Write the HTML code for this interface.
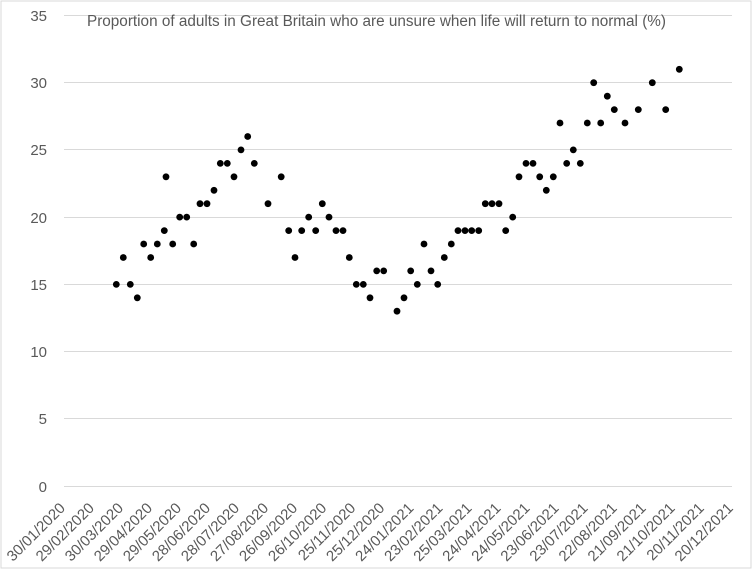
<!DOCTYPE html>
<html>
<head>
<meta charset="utf-8">
<style>
  html, body { margin: 0; padding: 0; background: #fff; }
  svg { display: block; }
  text { font-family: "Liberation Sans", "DejaVu Sans", sans-serif; fill: #595959; }
</style>
</head>
<body>
<svg width="754" height="571" viewBox="0 0 754 571" xmlns="http://www.w3.org/2000/svg">
  <rect x="0" y="0" width="754" height="571" fill="#fff"/>
  <rect x="1" y="1" width="750" height="567" fill="#fff" stroke="#d9d9d9" stroke-width="1"/>

  <!-- gridlines -->
  <g stroke="#d9d9d9" stroke-width="1">
    <line x1="64" y1="15.5" x2="732" y2="15.5"/>
    <line x1="64" y1="82.5" x2="732" y2="82.5"/>
    <line x1="64" y1="149.5" x2="732" y2="149.5"/>
    <line x1="64" y1="217.5" x2="732" y2="217.5"/>
    <line x1="64" y1="284.5" x2="732" y2="284.5"/>
    <line x1="64" y1="351.5" x2="732" y2="351.5"/>
    <line x1="64" y1="418.5" x2="732" y2="418.5"/>
    <line x1="64" y1="486.5" x2="732" y2="486.5"/>
  </g>

  <!-- y labels -->
  <g font-size="15" text-anchor="end">
    <text x="47" y="21">35</text>
    <text x="47" y="88">30</text>
    <text x="47" y="155">25</text>
    <text x="47" y="223">20</text>
    <text x="47" y="290">15</text>
    <text x="47" y="357">10</text>
    <text x="47" y="424">5</text>
    <text x="47" y="492">0</text>
  </g>

  <!-- title -->
  <text x="87" y="26" font-size="15.5" textLength="579" lengthAdjust="spacingAndGlyphs">Proportion of adults in Great Britain who are unsure when life will return to normal (%)</text>

  <!-- x labels -->
  <g font-size="15" text-anchor="end">
    <text x="66" y="509" transform="rotate(-45 66 509)">30/01/2020</text>
    <text x="95" y="509" transform="rotate(-45 95 509)">29/02/2020</text>
    <text x="124.1" y="509" transform="rotate(-45 124.1 509)">30/03/2020</text>
    <text x="153.1" y="509" transform="rotate(-45 153.1 509)">29/04/2020</text>
    <text x="182.2" y="509" transform="rotate(-45 182.2 509)">29/05/2020</text>
    <text x="211.2" y="509" transform="rotate(-45 211.2 509)">28/06/2020</text>
    <text x="240.2" y="509" transform="rotate(-45 240.2 509)">28/07/2020</text>
    <text x="269.3" y="509" transform="rotate(-45 269.3 509)">27/08/2020</text>
    <text x="298.3" y="509" transform="rotate(-45 298.3 509)">26/09/2020</text>
    <text x="327.4" y="509" transform="rotate(-45 327.4 509)">26/10/2020</text>
    <text x="356.4" y="509" transform="rotate(-45 356.4 509)">25/11/2020</text>
    <text x="385.4" y="509" transform="rotate(-45 385.4 509)">25/12/2020</text>
    <text x="414.5" y="509" transform="rotate(-45 414.5 509)">24/01/2021</text>
    <text x="443.5" y="509" transform="rotate(-45 443.5 509)">23/02/2021</text>
    <text x="472.6" y="509" transform="rotate(-45 472.6 509)">25/03/2021</text>
    <text x="501.6" y="509" transform="rotate(-45 501.6 509)">24/04/2021</text>
    <text x="530.6" y="509" transform="rotate(-45 530.6 509)">24/05/2021</text>
    <text x="559.7" y="509" transform="rotate(-45 559.7 509)">23/06/2021</text>
    <text x="588.7" y="509" transform="rotate(-45 588.7 509)">23/07/2021</text>
    <text x="617.8" y="509" transform="rotate(-45 617.8 509)">22/08/2021</text>
    <text x="646.8" y="509" transform="rotate(-45 646.8 509)">21/09/2021</text>
    <text x="675.8" y="509" transform="rotate(-45 675.8 509)">21/10/2021</text>
    <text x="704.9" y="509" transform="rotate(-45 704.9 509)">20/11/2021</text>
    <text x="733.9" y="509" transform="rotate(-45 733.9 509)">20/12/2021</text>
  </g>

  <!-- data points -->
  <g fill="#000">
    <circle cx="116.3" cy="284.4" r="3.4"/>
    <circle cx="123.3" cy="257.5" r="3.4"/>
    <circle cx="130.3" cy="284.4" r="3.4"/>
    <circle cx="137.3" cy="297.8" r="3.4"/>
    <circle cx="143.7" cy="244.0" r="3.4"/>
    <circle cx="150.7" cy="257.5" r="3.4"/>
    <circle cx="157.3" cy="244.0" r="3.4"/>
    <circle cx="164.3" cy="230.6" r="3.4"/>
    <circle cx="166.0" cy="176.8" r="3.4"/>
    <circle cx="172.7" cy="244.0" r="3.4"/>
    <circle cx="179.7" cy="217.1" r="3.4"/>
    <circle cx="186.7" cy="217.1" r="3.4"/>
    <circle cx="193.7" cy="244.0" r="3.4"/>
    <circle cx="200.0" cy="203.7" r="3.4"/>
    <circle cx="207.0" cy="203.7" r="3.4"/>
    <circle cx="214.0" cy="190.3" r="3.4"/>
    <circle cx="220.3" cy="163.4" r="3.4"/>
    <circle cx="227.3" cy="163.4" r="3.4"/>
    <circle cx="234.0" cy="176.8" r="3.4"/>
    <circle cx="241.0" cy="149.9" r="3.4"/>
    <circle cx="247.7" cy="136.5" r="3.4"/>
    <circle cx="254.3" cy="163.4" r="3.4"/>
    <circle cx="268.0" cy="203.7" r="3.4"/>
    <circle cx="281.2" cy="176.8" r="3.4"/>
    <circle cx="288.7" cy="230.6" r="3.4"/>
    <circle cx="295.0" cy="257.5" r="3.4"/>
    <circle cx="301.7" cy="230.6" r="3.4"/>
    <circle cx="308.7" cy="217.1" r="3.4"/>
    <circle cx="315.7" cy="230.6" r="3.4"/>
    <circle cx="322.3" cy="203.7" r="3.4"/>
    <circle cx="329.0" cy="217.1" r="3.4"/>
    <circle cx="336.0" cy="230.6" r="3.4"/>
    <circle cx="343.0" cy="230.6" r="3.4"/>
    <circle cx="349.3" cy="257.5" r="3.4"/>
    <circle cx="356.3" cy="284.4" r="3.4"/>
    <circle cx="363.3" cy="284.4" r="3.4"/>
    <circle cx="370.0" cy="297.8" r="3.4"/>
    <circle cx="376.7" cy="270.9" r="3.4"/>
    <circle cx="383.7" cy="270.9" r="3.4"/>
    <circle cx="397.0" cy="311.2" r="3.4"/>
    <circle cx="404.0" cy="297.8" r="3.4"/>
    <circle cx="410.7" cy="270.9" r="3.4"/>
    <circle cx="417.3" cy="284.4" r="3.4"/>
    <circle cx="424.0" cy="244.0" r="3.4"/>
    <circle cx="431.0" cy="270.9" r="3.4"/>
    <circle cx="437.7" cy="284.4" r="3.4"/>
    <circle cx="444.3" cy="257.5" r="3.4"/>
    <circle cx="451.3" cy="244.0" r="3.4"/>
    <circle cx="458.0" cy="230.6" r="3.4"/>
    <circle cx="465.0" cy="230.6" r="3.4"/>
    <circle cx="471.7" cy="230.6" r="3.4"/>
    <circle cx="478.7" cy="230.6" r="3.4"/>
    <circle cx="485.3" cy="203.7" r="3.4"/>
    <circle cx="492.0" cy="203.7" r="3.4"/>
    <circle cx="499.0" cy="203.7" r="3.4"/>
    <circle cx="505.7" cy="230.6" r="3.4"/>
    <circle cx="512.7" cy="217.1" r="3.4"/>
    <circle cx="519.0" cy="176.8" r="3.4"/>
    <circle cx="526.0" cy="163.4" r="3.4"/>
    <circle cx="533.0" cy="163.4" r="3.4"/>
    <circle cx="539.7" cy="176.8" r="3.4"/>
    <circle cx="546.3" cy="190.3" r="3.4"/>
    <circle cx="553.3" cy="176.8" r="3.4"/>
    <circle cx="560.0" cy="123.0" r="3.4"/>
    <circle cx="566.7" cy="163.4" r="3.4"/>
    <circle cx="573.3" cy="149.9" r="3.4"/>
    <circle cx="580.3" cy="163.4" r="3.4"/>
    <circle cx="587.3" cy="123.0" r="3.4"/>
    <circle cx="593.7" cy="82.7" r="3.4"/>
    <circle cx="600.7" cy="123.0" r="3.4"/>
    <circle cx="607.3" cy="96.2" r="3.4"/>
    <circle cx="614.3" cy="109.6" r="3.4"/>
    <circle cx="625.0" cy="123.0" r="3.4"/>
    <circle cx="638.3" cy="109.6" r="3.4"/>
    <circle cx="652.3" cy="82.7" r="3.4"/>
    <circle cx="665.7" cy="109.6" r="3.4"/>
    <circle cx="679.3" cy="69.3" r="3.4"/>
  </g>
</svg>
</body>
</html>
